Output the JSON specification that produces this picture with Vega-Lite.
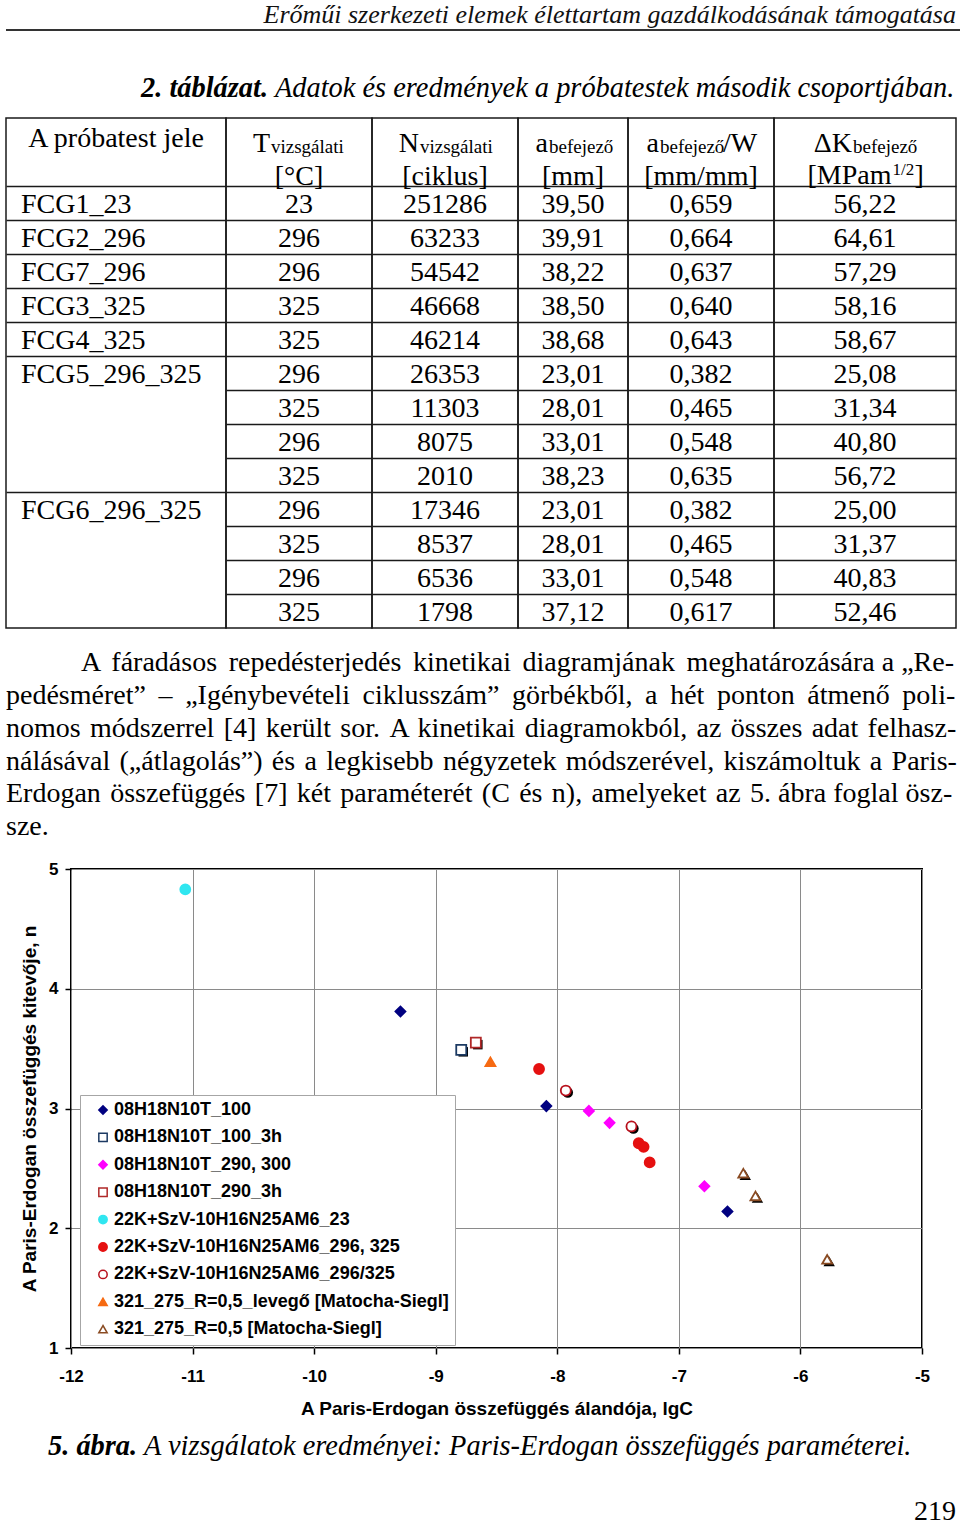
{
  "$schema": "https://vega.github.io/schema/vega-lite/v6.json",
  "padding": {"left": 5, "top": 0, "right": 0, "bottom": 0},
  "background": "white",
  "spacing": 0,
  "config": {
    "locale": {"number": {"decimal": ",", "thousands": "", "grouping": [3], "currency": ["", ""], "minus": "-"}},
    "view": {"stroke": null}
  },
  "datasets": {
    "table": [
      {"r": 1, "name": "FCG1_23", "T": 23, "N": 251286, "a": 39.50, "aw": 0.659, "dk": 56.22},
      {"r": 2, "name": "FCG2_296", "T": 296, "N": 63233, "a": 39.91, "aw": 0.664, "dk": 64.61},
      {"r": 3, "name": "FCG7_296", "T": 296, "N": 54542, "a": 38.22, "aw": 0.637, "dk": 57.29},
      {"r": 4, "name": "FCG3_325", "T": 325, "N": 46668, "a": 38.50, "aw": 0.640, "dk": 58.16},
      {"r": 5, "name": "FCG4_325", "T": 325, "N": 46214, "a": 38.68, "aw": 0.643, "dk": 58.67},
      {"r": 6, "name": "FCG5_296_325", "T": 296, "N": 26353, "a": 23.01, "aw": 0.382, "dk": 25.08},
      {"r": 7, "name": null, "T": 325, "N": 11303, "a": 28.01, "aw": 0.465, "dk": 31.34},
      {"r": 8, "name": null, "T": 296, "N": 8075, "a": 33.01, "aw": 0.548, "dk": 40.80},
      {"r": 9, "name": null, "T": 325, "N": 2010, "a": 38.23, "aw": 0.635, "dk": 56.72},
      {"r": 10, "name": "FCG6_296_325", "T": 296, "N": 17346, "a": 23.01, "aw": 0.382, "dk": 25.00},
      {"r": 11, "name": null, "T": 325, "N": 8537, "a": 28.01, "aw": 0.465, "dk": 31.37},
      {"r": 12, "name": null, "T": 296, "N": 6536, "a": 33.01, "aw": 0.548, "dk": 40.83},
      {"r": 13, "name": null, "T": 325, "N": 1798, "a": 37.12, "aw": 0.617, "dk": 52.46}
    ],
    "pts": [
      {"s": "08H18N10T_100", "lgC": -9.29, "n": 3.81},
      {"s": "08H18N10T_100", "lgC": -8.09, "n": 3.02},
      {"s": "08H18N10T_100", "lgC": -6.60, "n": 2.14},
      {"s": "08H18N10T_100_3h", "lgC": -8.79, "n": 3.49},
      {"s": "08H18N10T_290, 300", "lgC": -7.74, "n": 2.98},
      {"s": "08H18N10T_290, 300", "lgC": -7.57, "n": 2.88},
      {"s": "08H18N10T_290, 300", "lgC": -6.79, "n": 2.35},
      {"s": "08H18N10T_290_3h", "lgC": -8.67, "n": 3.55},
      {"s": "22K+SzV-10H16N25AM6_23", "lgC": -11.06, "n": 4.83},
      {"s": "22K+SzV-10H16N25AM6_296, 325", "lgC": -8.15, "n": 3.33},
      {"s": "22K+SzV-10H16N25AM6_296, 325", "lgC": -7.33, "n": 2.71},
      {"s": "22K+SzV-10H16N25AM6_296, 325", "lgC": -7.29, "n": 2.68},
      {"s": "22K+SzV-10H16N25AM6_296, 325", "lgC": -7.24, "n": 2.55},
      {"s": "22K+SzV-10H16N25AM6_296/325", "lgC": -7.93, "n": 3.15},
      {"s": "22K+SzV-10H16N25AM6_296/325", "lgC": -7.39, "n": 2.85},
      {"s": "321_275_R=0,5_levegő [Matocha-Siegl]", "lgC": -8.55, "n": 3.39},
      {"s": "321_275_R=0,5 [Matocha-Siegl]", "lgC": -6.47, "n": 2.46},
      {"s": "321_275_R=0,5 [Matocha-Siegl]", "lgC": -6.37, "n": 2.27},
      {"s": "321_275_R=0,5 [Matocha-Siegl]", "lgC": -5.78, "n": 1.74}
    ]
  },
  "vconcat": [
    {
      "width": 955, "height": 29,
      "data": {"values": [{"t": "Erőműi szerkezeti elemek élettartam gazdálkodásának támogatása"}]},
      "mark": {"type": "text", "align": "right", "baseline": "middle", "dx": 472.5, "font": "Liberation Serif", "fontStyle": "italic", "fontSize": 26, "color": "#111"},
      "encoding": {"text": {"field": "t"}}
    },
    {
      "width": 955, "height": 2,
      "view": {"fill": "#333", "stroke": null},
      "data": {"values": []},
      "mark": "text",
      "encoding": {"text": {"field": "t"}}
    },
    {
      "width": 955, "height": 85.25,
      "layer": [
        {
          "data": {"values": [{"t": "2. táblázat."}]},
          "mark": {"type": "text", "align": "left", "baseline": "middle", "dx": -342.5, "dy": 14.4, "font": "Liberation Serif", "fontStyle": "italic", "fontWeight": "bold", "fontSize": 28.4, "color": "#000"},
          "encoding": {"text": {"field": "t"}}
        },
        {
          "data": {"values": [{"t": "Adatok és eredmények a próbatestek második csoportjában."}]},
          "mark": {"type": "text", "align": "left", "baseline": "middle", "dx": -208.5, "dy": 14.4, "font": "Liberation Serif", "fontStyle": "italic", "fontSize": 28.4, "color": "#000"},
          "encoding": {"text": {"field": "t"}}
        }
      ]
    },
    {
      "hconcat": [
        {
          "width": 220, "height": 510, "view": {"stroke": "#1a1a1a", "strokeWidth": 1.5},
          "encoding": {
            "y": {"field": "r", "type": "ordinal", "scale": {"type": "band", "domain": [-1,0,1,2,3,4,5,6,7,8,9,10,11,12,13], "paddingInner": 0, "paddingOuter": 0},
                  "axis": {"values": [1,2,3,4,5,6,10], "bandPosition": 0, "grid": true, "gridColor": "#1a1a1a", "gridWidth": 1.5, "labels": false, "ticks": false, "domain": false, "title": null, "minExtent": 0, "maxExtent": 0}}
          },
          "layer": [
            {"data": {"values": [{"r": -1, "t": "A próbatest jele"}]}, "mark": {"type": "text", "align": "center", "baseline": "alphabetic", "dy": 12, "font": "Liberation Serif", "fontSize": 28, "color": "#000"}, "encoding": {"text": {"field": "t"}}},
            {
              "data": {"name": "table"},
              "transform": [{"filter": "datum.name != null"}],
              "mark": {"type": "text", "align": "left", "baseline": "middle", "dx": -95, "dy": 2, "font": "Liberation Serif", "fontSize": 28, "color": "#000"},
              "encoding": {"text": {"field": "name", "type": "nominal"}}
            }
          ]
        },
        {
          "width": 146, "height": 510, "view": {"stroke": "#1a1a1a", "strokeWidth": 1.5},
          "encoding": {
            "y": {"field": "r", "type": "ordinal", "scale": {"type": "band", "domain": [-1,0,1,2,3,4,5,6,7,8,9,10,11,12,13], "paddingInner": 0, "paddingOuter": 0},
                  "axis": {"values": [1,2,3,4,5,6,7,8,9,10,11,12,13], "bandPosition": 0, "grid": true, "gridColor": "#1a1a1a", "gridWidth": 1.5, "labels": false, "ticks": false, "domain": false, "title": null, "minExtent": 0, "maxExtent": 0}}
          },
          "layer": [
            {"data": {"values": [{"r": -1, "t": "T"}]}, "mark": {"type": "text", "align": "right", "baseline": "alphabetic", "dx": -29, "dy": 17, "font": "Liberation Serif", "fontSize": 28, "color": "#000"}, "encoding": {"text": {"field": "t"}}},
            {"data": {"values": [{"r": -1, "t": "vizsgálati"}]}, "mark": {"type": "text", "align": "left", "baseline": "alphabetic", "dx": -28, "dy": 18, "font": "Liberation Serif", "fontSize": 19, "color": "#000"}, "encoding": {"text": {"field": "t"}}},
            {"data": {"values": [{"r": 0, "t": "[°C]"}]}, "mark": {"type": "text", "align": "center", "baseline": "alphabetic", "dy": 15.5, "font": "Liberation Serif", "fontSize": 28, "color": "#000"}, "encoding": {"text": {"field": "t"}}},
            {"data": {"name": "table"}, "mark": {"type": "text", "align": "center", "baseline": "middle", "dy": 2, "font": "Liberation Serif", "fontSize": 28, "color": "#000"}, "encoding": {"text": {"field": "T", "type": "quantitative", "format": "d"}}}
          ]
        },
        {
          "width": 146, "height": 510, "view": {"stroke": "#1a1a1a", "strokeWidth": 1.5},
          "encoding": {
            "y": {"field": "r", "type": "ordinal", "scale": {"type": "band", "domain": [-1,0,1,2,3,4,5,6,7,8,9,10,11,12,13], "paddingInner": 0, "paddingOuter": 0},
                  "axis": {"values": [1,2,3,4,5,6,7,8,9,10,11,12,13], "bandPosition": 0, "grid": true, "gridColor": "#1a1a1a", "gridWidth": 1.5, "labels": false, "ticks": false, "domain": false, "title": null, "minExtent": 0, "maxExtent": 0}}
          },
          "layer": [
            {"data": {"values": [{"r": -1, "t": "N"}]}, "mark": {"type": "text", "align": "right", "baseline": "alphabetic", "dx": -26, "dy": 17, "font": "Liberation Serif", "fontSize": 28, "color": "#000"}, "encoding": {"text": {"field": "t"}}},
            {"data": {"values": [{"r": -1, "t": "vizsgálati"}]}, "mark": {"type": "text", "align": "left", "baseline": "alphabetic", "dx": -25, "dy": 18, "font": "Liberation Serif", "fontSize": 19, "color": "#000"}, "encoding": {"text": {"field": "t"}}},
            {"data": {"values": [{"r": 0, "t": "[ciklus]"}]}, "mark": {"type": "text", "align": "center", "baseline": "alphabetic", "dy": 15.5, "font": "Liberation Serif", "fontSize": 28, "color": "#000"}, "encoding": {"text": {"field": "t"}}},
            {"data": {"name": "table"}, "mark": {"type": "text", "align": "center", "baseline": "middle", "dy": 2, "font": "Liberation Serif", "fontSize": 28, "color": "#000"}, "encoding": {"text": {"field": "N", "type": "quantitative", "format": "d"}}}
          ]
        },
        {
          "width": 110, "height": 510, "view": {"stroke": "#1a1a1a", "strokeWidth": 1.5},
          "encoding": {
            "y": {"field": "r", "type": "ordinal", "scale": {"type": "band", "domain": [-1,0,1,2,3,4,5,6,7,8,9,10,11,12,13], "paddingInner": 0, "paddingOuter": 0},
                  "axis": {"values": [1,2,3,4,5,6,7,8,9,10,11,12,13], "bandPosition": 0, "grid": true, "gridColor": "#1a1a1a", "gridWidth": 1.5, "labels": false, "ticks": false, "domain": false, "title": null, "minExtent": 0, "maxExtent": 0}}
          },
          "layer": [
            {"data": {"values": [{"r": -1, "t": "a"}]}, "mark": {"type": "text", "align": "right", "baseline": "alphabetic", "dx": -25, "dy": 17, "font": "Liberation Serif", "fontSize": 28, "color": "#000"}, "encoding": {"text": {"field": "t"}}},
            {"data": {"values": [{"r": -1, "t": "befejező"}]}, "mark": {"type": "text", "align": "left", "baseline": "alphabetic", "dx": -24, "dy": 18, "font": "Liberation Serif", "fontSize": 19, "color": "#000"}, "encoding": {"text": {"field": "t"}}},
            {"data": {"values": [{"r": 0, "t": "[mm]"}]}, "mark": {"type": "text", "align": "center", "baseline": "alphabetic", "dy": 15.5, "font": "Liberation Serif", "fontSize": 28, "color": "#000"}, "encoding": {"text": {"field": "t"}}},
            {"data": {"name": "table"}, "mark": {"type": "text", "align": "center", "baseline": "middle", "dy": 2, "font": "Liberation Serif", "fontSize": 28, "color": "#000"}, "encoding": {"text": {"field": "a", "type": "quantitative", "format": ".2f"}}}
          ]
        },
        {
          "width": 146, "height": 510, "view": {"stroke": "#1a1a1a", "strokeWidth": 1.5},
          "encoding": {
            "y": {"field": "r", "type": "ordinal", "scale": {"type": "band", "domain": [-1,0,1,2,3,4,5,6,7,8,9,10,11,12,13], "paddingInner": 0, "paddingOuter": 0},
                  "axis": {"values": [1,2,3,4,5,6,7,8,9,10,11,12,13], "bandPosition": 0, "grid": true, "gridColor": "#1a1a1a", "gridWidth": 1.5, "labels": false, "ticks": false, "domain": false, "title": null, "minExtent": 0, "maxExtent": 0}}
          },
          "layer": [
            {"data": {"values": [{"r": -1, "t": "a"}]}, "mark": {"type": "text", "align": "right", "baseline": "alphabetic", "dx": -42, "dy": 17, "font": "Liberation Serif", "fontSize": 28, "color": "#000"}, "encoding": {"text": {"field": "t"}}},
            {"data": {"values": [{"r": -1, "t": "befejező"}]}, "mark": {"type": "text", "align": "left", "baseline": "alphabetic", "dx": -41, "dy": 18, "font": "Liberation Serif", "fontSize": 19, "color": "#000"}, "encoding": {"text": {"field": "t"}}},
            {"data": {"values": [{"r": -1, "t": "/W"}]}, "mark": {"type": "text", "align": "left", "baseline": "alphabetic", "dx": 22, "dy": 17, "font": "Liberation Serif", "fontSize": 28, "color": "#000"}, "encoding": {"text": {"field": "t"}}},
            {"data": {"values": [{"r": 0, "t": "[mm/mm]"}]}, "mark": {"type": "text", "align": "center", "baseline": "alphabetic", "dy": 15.5, "font": "Liberation Serif", "fontSize": 28, "color": "#000"}, "encoding": {"text": {"field": "t"}}},
            {"data": {"name": "table"}, "mark": {"type": "text", "align": "center", "baseline": "middle", "dy": 2, "font": "Liberation Serif", "fontSize": 28, "color": "#000"}, "encoding": {"text": {"field": "aw", "type": "quantitative", "format": ".3f"}}}
          ]
        },
        {
          "width": 182, "height": 510, "view": {"stroke": "#1a1a1a", "strokeWidth": 1.5},
          "encoding": {
            "y": {"field": "r", "type": "ordinal", "scale": {"type": "band", "domain": [-1,0,1,2,3,4,5,6,7,8,9,10,11,12,13], "paddingInner": 0, "paddingOuter": 0},
                  "axis": {"values": [1,2,3,4,5,6,7,8,9,10,11,12,13], "bandPosition": 0, "grid": true, "gridColor": "#1a1a1a", "gridWidth": 1.5, "labels": false, "ticks": false, "domain": false, "title": null, "minExtent": 0, "maxExtent": 0}}
          },
          "layer": [
            {"data": {"values": [{"r": -1, "t": "ΔK"}]}, "mark": {"type": "text", "align": "right", "baseline": "alphabetic", "dx": -13, "dy": 17, "font": "Liberation Serif", "fontSize": 28, "color": "#000"}, "encoding": {"text": {"field": "t"}}},
            {"data": {"values": [{"r": -1, "t": "befejező"}]}, "mark": {"type": "text", "align": "left", "baseline": "alphabetic", "dx": -12, "dy": 18, "font": "Liberation Serif", "fontSize": 19, "color": "#000"}, "encoding": {"text": {"field": "t"}}},
            {"data": {"values": [{"r": 0, "t": "[MPam"}]}, "mark": {"type": "text", "align": "right", "baseline": "alphabetic", "dx": 26.5, "dy": 14.5, "font": "Liberation Serif", "fontSize": 28, "color": "#000"}, "encoding": {"text": {"field": "t"}}},
            {"data": {"values": [{"r": 0, "t": "1/2"}]}, "mark": {"type": "text", "align": "left", "baseline": "alphabetic", "dx": 27.5, "dy": 5.5, "font": "Liberation Serif", "fontSize": 17, "color": "#000"}, "encoding": {"text": {"field": "t"}}},
            {"data": {"values": [{"r": 0, "t": "]"}]}, "mark": {"type": "text", "align": "left", "baseline": "alphabetic", "dx": 49.5, "dy": 14.5, "font": "Liberation Serif", "fontSize": 28, "color": "#000"}, "encoding": {"text": {"field": "t"}}},
            {"data": {"name": "table"}, "mark": {"type": "text", "align": "center", "baseline": "middle", "dy": 2, "font": "Liberation Serif", "fontSize": 28, "color": "#000"}, "encoding": {"text": {"field": "dk", "type": "quantitative", "format": ".2f"}}}
          ]
        }
      ],
      "spacing": 0, "bounds": "flush"
    },
    {
      "width": 955, "height": 229.25,
      "data": {"values": [
        {"ln": 1, "t": "A \u2006fáradásos \u2006repedésterjedés \u2006kinetikai \u2006diagramjának \u2006meghatározására a „Re-"},
        {"ln": 2, "t": "pedésméret” \u2009– \u2009„Igénybevételi \u2009ciklusszám” \u2009görbékből, \u2009a \u2009hét \u2009ponton \u2009átmenő \u2009poli-"},
        {"ln": 3, "t": "nomos \u200amódszerrel \u200a[4] \u200akerült \u200asor. \u200aA \u200akinetikai \u200adiagramokból, \u200aaz \u200aösszes \u200aadat \u200afelhasz-"},
        {"ln": 4, "t": "nálásával \u200a(„átlagolás”) \u200aés \u200aa \u200alegkisebb \u200anégyzetek \u200amódszerével, \u200akiszámoltuk \u200aa \u200aParis-"},
        {"ln": 5, "t": "Erdogan \u200aösszefüggés \u200a[7] \u200akét \u200aparaméterét \u200a(C \u200aés \u200an), \u200aamelyeket \u200aaz \u200a5. ábra foglal ösz-"},
        {"ln": 6, "t": "sze."}
      ]},
      "encoding": {
        "y": {"field": "ln", "type": "ordinal", "scale": {"type": "band", "paddingInner": 0, "paddingOuter": 0.495, "align": 0.55}, "axis": null},
        "text": {"field": "t"}
      },
      "layer": [
        {
          "transform": [{"filter": "datum.ln == 1"}],
          "mark": {"type": "text", "align": "left", "baseline": "middle", "dx": -402.5, "font": "Liberation Serif", "fontSize": 28, "color": "#000"}
        },
        {
          "transform": [{"filter": "datum.ln > 1"}],
          "mark": {"type": "text", "align": "left", "baseline": "middle", "dx": -477.5, "font": "Liberation Serif", "fontSize": 28, "color": "#000"}
        }
      ]
    },
    {
      "hconcat": [
        {"width": 1, "height": 1, "view": {"stroke": null}, "data": {"values": []}, "mark": "text", "encoding": {"text": {"field": "t"}}},
        {
          "width": 851, "height": 479,
          "view": {"stroke": "#000", "strokeWidth": 2},
          "data": {"name": "pts"},
          "encoding": {
            "x": {"field": "lgC", "type": "quantitative",
                  "scale": {"domain": [-12, -5], "nice": false, "zero": false},
                  "axis": {"values": [-12, -11, -10, -9, -8, -7, -6, -5], "format": "d", "title": "A Paris-Erdogan összefüggés álandója, lgC",
                           "grid": true, "gridColor": "#8a8a8a", "gridWidth": 1, "domain": false, "ticks": true, "tickColor": "#000", "tickSize": 6, "tickWidth": 1.5,
                           "labelFont": "Liberation Sans", "labelFontWeight": "bold", "labelFontSize": 17, "labelColor": "#000", "labelPadding": 14, "labelFlush": false, "labelOverlap": false,
                           "titleFont": "Liberation Sans", "titleFontWeight": "bold", "titleFontSize": 19, "titleColor": "#000", "titlePadding": 15}},
            "y": {"field": "n", "type": "quantitative",
                  "scale": {"domain": [1, 5], "nice": false, "zero": false},
                  "axis": {"values": [1, 2, 3, 4, 5], "format": "d", "title": "A Paris-Erdogan összefüggés kitevője, n",
                           "grid": true, "gridColor": "#8a8a8a", "gridWidth": 1, "domain": false, "ticks": true, "tickColor": "#000", "tickSize": 6, "tickWidth": 1.5,
                           "labelFont": "Liberation Sans", "labelFontWeight": "bold", "labelFontSize": 17, "labelColor": "#000", "labelPadding": 7, "labelOverlap": false,
                           "titleFont": "Liberation Sans", "titleFontWeight": "bold", "titleFontSize": 19, "titleColor": "#000", "titlePadding": 9}}
          },
          "layer": [
            {
              "transform": [{"filter": {"field": "s", "oneOf": ["08H18N10T_100_3h", "08H18N10T_290_3h"]}}],
              "mark": {"type": "point", "shape": "square", "filled": true, "color": "#000", "opacity": 1, "size": 90, "xOffset": 2, "yOffset": 2}
            },
            {
              "transform": [{"filter": {"field": "s", "oneOf": ["22K+SzV-10H16N25AM6_296/325"]}}],
              "mark": {"type": "point", "shape": "circle", "filled": true, "color": "#000", "opacity": 1, "size": 110, "xOffset": 2, "yOffset": 2}
            },
            {
              "transform": [{"filter": {"field": "s", "oneOf": ["321_275_R=0,5 [Matocha-Siegl]"]}}],
              "mark": {"type": "point", "shape": "triangle-up", "filled": true, "color": "#000", "opacity": 1, "size": 130, "xOffset": 2, "yOffset": 2}
            },
            {
              "mark": {"type": "point", "opacity": 1, "fillOpacity": 1, "strokeOpacity": 1, "strokeWidth": 1.8, "size": 100},
              "encoding": {
                "fill": {"field": "s", "type": "nominal",
                         "scale": {"domain": ["08H18N10T_100", "08H18N10T_100_3h", "08H18N10T_290, 300", "08H18N10T_290_3h", "22K+SzV-10H16N25AM6_23", "22K+SzV-10H16N25AM6_296, 325", "22K+SzV-10H16N25AM6_296/325", "321_275_R=0,5_levegő [Matocha-Siegl]", "321_275_R=0,5 [Matocha-Siegl]"],
                                   "range": ["#000080", "#ffffff", "#ff00ff", "#ffffff", "#30e6f0", "#e51010", "#ffffff", "#f66a12", "#ffffff"]},
                         "legend": {"title": null, "orient": "none", "legendX": 74, "legendY": 1095, "fillColor": "#ffffff", "strokeColor": "#a6a6a6", "padding": 6, "labelFont": "Liberation Sans", "labelFontWeight": "bold", "labelFontSize": 18, "labelColor": "#000", "labelLimit": 500, "symbolSize": 70, "symbolStrokeWidth": 1.5, "rowPadding": 9.4, "labelOffset": 2, "symbolOffset": 8}},
                "stroke": {"field": "s", "type": "nominal",
                           "scale": {"domain": ["08H18N10T_100", "08H18N10T_100_3h", "08H18N10T_290, 300", "08H18N10T_290_3h", "22K+SzV-10H16N25AM6_23", "22K+SzV-10H16N25AM6_296, 325", "22K+SzV-10H16N25AM6_296/325", "321_275_R=0,5_levegő [Matocha-Siegl]", "321_275_R=0,5 [Matocha-Siegl]"],
                                     "range": ["#000080", "#1c3a63", "#ff00ff", "#b02828", "#30e6f0", "#e51010", "#b8101c", "#f66a12", "#8a4b22"]},
                           "legend": {"title": null, "orient": "none", "legendX": 74, "legendY": 1095, "fillColor": "#ffffff", "strokeColor": "#a6a6a6", "padding": 6, "labelFont": "Liberation Sans", "labelFontWeight": "bold", "labelFontSize": 18, "labelColor": "#000", "labelLimit": 500, "symbolSize": 70, "symbolStrokeWidth": 1.5, "rowPadding": 9.4, "labelOffset": 2, "symbolOffset": 8}},
                "shape": {"field": "s", "type": "nominal",
                          "scale": {"domain": ["08H18N10T_100", "08H18N10T_100_3h", "08H18N10T_290, 300", "08H18N10T_290_3h", "22K+SzV-10H16N25AM6_23", "22K+SzV-10H16N25AM6_296, 325", "22K+SzV-10H16N25AM6_296/325", "321_275_R=0,5_levegő [Matocha-Siegl]", "321_275_R=0,5 [Matocha-Siegl]"],
                                    "range": ["diamond", "square", "diamond", "square", "circle", "circle", "circle", "triangle-up", "triangle-up"]},
                          "legend": {"title": null, "orient": "none", "legendX": 74, "legendY": 1095, "fillColor": "#ffffff", "strokeColor": "#a6a6a6", "padding": 6, "labelFont": "Liberation Sans", "labelFontWeight": "bold", "labelFontSize": 18, "labelColor": "#000", "labelLimit": 500, "symbolSize": 70, "symbolStrokeWidth": 1.5, "rowPadding": 9.4, "labelOffset": 2, "symbolOffset": 8}}
              }
            }
          ]
        }
      ],
      "spacing": 64, "bounds": "flush"
    },
    {
      "width": 955, "height": 105,
      "layer": [
        {
          "data": {"values": [{"t": "5. ábra."}]},
          "mark": {"type": "text", "align": "left", "baseline": "middle", "dx": -435.5, "dy": -25.5, "font": "Liberation Serif", "fontStyle": "italic", "fontWeight": "bold", "fontSize": 28.4, "color": "#000"},
          "encoding": {"text": {"field": "t"}}
        },
        {
          "data": {"values": [{"t": "A vizsgálatok eredményei: Paris-Erdogan összefüggés paraméterei."}]},
          "mark": {"type": "text", "align": "left", "baseline": "middle", "dx": -339.5, "dy": -25.5, "font": "Liberation Serif", "fontStyle": "italic", "fontSize": 28.4, "color": "#000"},
          "encoding": {"text": {"field": "t"}}
        },
        {
          "data": {"values": [{"t": "219"}]},
          "mark": {"type": "text", "align": "right", "baseline": "middle", "dx": 472.5, "dy": 40.5, "font": "Liberation Serif", "fontSize": 28, "color": "#000"},
          "encoding": {"text": {"field": "t"}}
        }
      ]
    }
  ]
}
